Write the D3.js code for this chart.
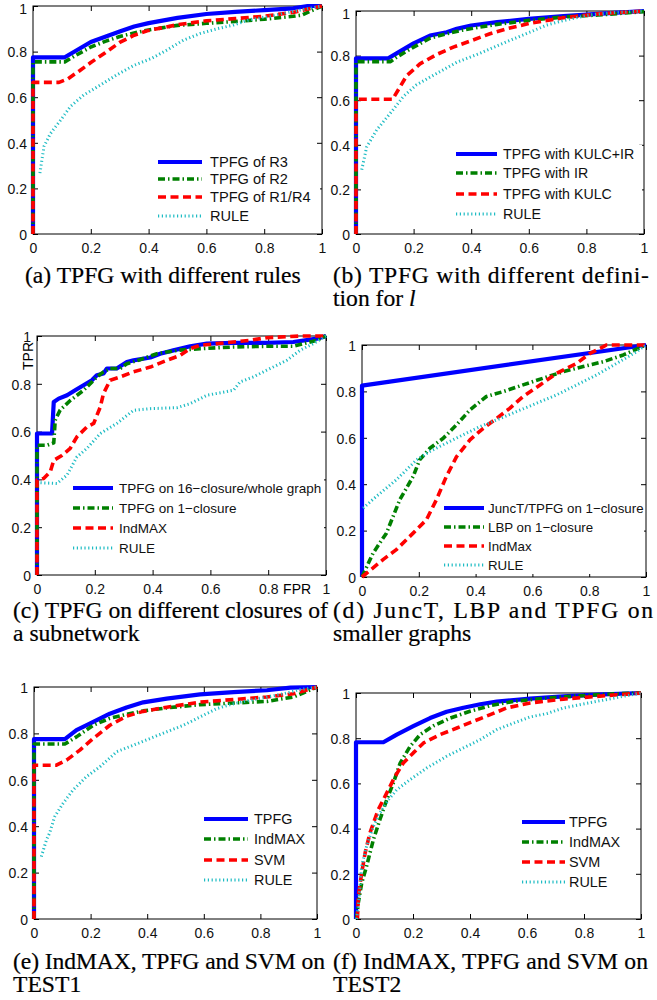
<!DOCTYPE html>
<html><head><meta charset="utf-8">
<script src="https://cdn.jsdelivr.net/npm/d3@7/dist/d3.min.js"></script>
<style>
body{margin:0;background:#fff;}
svg{display:block;}
</style></head>
<body>
<svg id="fig" width="657" height="1000"></svg>
<script>
// ---------- tick values / labels ----------
const tickValues = [0, 0.2, 0.4, 0.6, 0.8, 1];
const tickLabels = ["0", "0.2", "0.4", "0.6", "0.8", "1"];

// ---------- (a) TPFG with different rules ----------
const aNames = ["TPFG of R3", "TPFG of R2", "TPFG of R1/R4", "RULE"];
const aR3 = [[0,0],[0,0.775],[0.11,0.775],[0.15,0.805],[0.2,0.842],[0.25,0.865],[0.3,0.888],[0.35,0.91],[0.4,0.925],[0.5,0.948],[0.6,0.965],[0.7,0.974],[0.8,0.982],[0.9,0.99],[0.95,1],[1,1]];
const aR2 = [[0,0],[0,0.755],[0.11,0.755],[0.15,0.785],[0.2,0.82],[0.25,0.845],[0.3,0.866],[0.35,0.882],[0.4,0.895],[0.5,0.915],[0.6,0.924],[0.7,0.932],[0.8,0.942],[0.9,0.955],[0.93,0.96],[1,1]];
const aR14 = [[0,0],[0,0.665],[0.09,0.665],[0.12,0.68],[0.16,0.715],[0.2,0.752],[0.25,0.795],[0.3,0.84],[0.35,0.872],[0.4,0.893],[0.45,0.905],[0.5,0.918],[0.6,0.935],[0.7,0.945],[0.8,0.955],[0.9,0.972],[1,1]];
const aRule = [[0.024,0.267],[0.038,0.384],[0.06,0.44],[0.096,0.5],[0.13,0.56],[0.176,0.61],[0.234,0.654],[0.29,0.698],[0.35,0.74],[0.41,0.77],[0.464,0.807],[0.52,0.85],[0.58,0.88],[0.637,0.9],[0.695,0.917],[0.75,0.94],[0.81,0.953],[0.867,0.968],[0.925,0.982],[1,1]];

// ---------- (b) TPFG with different definition for l ----------
const bNames = ["TPFG with KULC+IR", "TPFG with IR", "TPFG with KULC", "RULE"];
const bKulcIr = [[0,0],[0,0.788],[0.112,0.788],[0.141,0.81],[0.2,0.855],[0.257,0.89],[0.315,0.905],[0.35,0.92],[0.4,0.935],[0.49,0.95],[0.6,0.965],[0.72,0.977],[0.84,0.987],[1,1]];
const bIr = [[0,0],[0,0.773],[0.12,0.773],[0.141,0.793],[0.2,0.838],[0.257,0.878],[0.315,0.898],[0.373,0.915],[0.43,0.928],[0.49,0.94],[0.6,0.958],[0.72,0.973],[0.84,0.982],[1,0.997]];
const bKulc = [[0,0],[0,0.604],[0.127,0.604],[0.153,0.66],[0.176,0.71],[0.222,0.763],[0.28,0.805],[0.338,0.838],[0.396,0.865],[0.465,0.898],[0.523,0.92],[0.604,0.945],[0.72,0.97],[0.84,0.987],[1,1]];
const bRule = [[0.02,0.288],[0.037,0.39],[0.072,0.467],[0.118,0.54],[0.164,0.616],[0.21,0.669],[0.28,0.72],[0.35,0.77],[0.43,0.81],[0.51,0.855],[0.604,0.905],[0.662,0.937],[0.72,0.957],[0.81,0.982],[0.893,0.993],[1,1]];

// ---------- (c) TPFG on different closures ----------
const cNames = ["TPFG on 16\u2212closure/whole graph", "TPFG on 1\u2212closure", "IndMAX", "RULE"];
const cT16 = [[0,0],[0,0.592],[0.052,0.592],[0.058,0.724],[0.075,0.738],[0.104,0.752],[0.132,0.773],[0.161,0.794],[0.19,0.815],[0.207,0.836],[0.23,0.843],[0.242,0.864],[0.276,0.864],[0.311,0.891],[0.334,0.898],[0.392,0.91],[0.426,0.926],[0.472,0.94],[0.53,0.957],[0.588,0.968],[0.68,0.971],[0.795,0.971],[0.887,0.975],[0.968,0.989],[1,1]];
const cT1 = [[0,0],[0,0.543],[0.035,0.543],[0.058,0.553],[0.063,0.648],[0.08,0.69],[0.115,0.73],[0.161,0.773],[0.184,0.8],[0.207,0.829],[0.23,0.85],[0.253,0.864],[0.288,0.864],[0.311,0.884],[0.357,0.901],[0.415,0.926],[0.484,0.94],[0.565,0.947],[0.68,0.954],[0.795,0.957],[0.887,0.957],[0.968,0.982],[1,1]];
const cInd = [[0,0],[0,0.397],[0.023,0.404],[0.046,0.432],[0.058,0.48],[0.086,0.5],[0.115,0.53],[0.138,0.578],[0.173,0.62],[0.196,0.634],[0.219,0.703],[0.23,0.759],[0.253,0.815],[0.288,0.829],[0.334,0.85],[0.392,0.87],[0.449,0.898],[0.495,0.919],[0.53,0.947],[0.565,0.961],[0.622,0.968],[0.68,0.975],[0.737,0.982],[0.795,0.993],[0.91,1],[1,1]];
const cRule = [[0.012,0.386],[0.069,0.383],[0.104,0.418],[0.138,0.494],[0.173,0.53],[0.219,0.592],[0.276,0.634],[0.334,0.689],[0.392,0.696],[0.484,0.7],[0.53,0.717],[0.588,0.752],[0.68,0.773],[0.703,0.808],[0.749,0.829],[0.795,0.857],[0.864,0.898],[0.91,0.94],[0.956,0.968],[1,1]];

// ---------- (d) JuncT, LBP and TPFG ----------
const dNames = ["JuncT/TPFG on 1\u2212closure", "LBP on 1\u2212closure", "IndMax", "RULE"];
const dJunc = [[0,0],[0,0.825],[1,1]];
const dLbp = [[0,0],[0.039,0.103],[0.086,0.189],[0.133,0.333],[0.18,0.433],[0.203,0.505],[0.239,0.555],[0.286,0.598],[0.333,0.656],[0.38,0.72],[0.438,0.778],[0.497,0.799],[0.567,0.828],[0.638,0.857],[0.709,0.885],[0.779,0.907],[0.85,0.928],[0.92,0.957],[1,1]];
const dInd = [[0,0],[0.074,0.075],[0.121,0.118],[0.18,0.189],[0.227,0.247],[0.262,0.333],[0.297,0.433],[0.333,0.519],[0.38,0.591],[0.427,0.641],[0.474,0.684],[0.52,0.727],[0.567,0.778],[0.627,0.828],[0.685,0.878],[0.756,0.921],[0.803,0.964],[0.85,0.993],[0.86,1],[1,1]];
const dRule = [[0.004,0.297],[0.05,0.347],[0.121,0.419],[0.192,0.505],[0.239,0.541],[0.297,0.577],[0.356,0.613],[0.415,0.648],[0.474,0.677],[0.544,0.713],[0.615,0.749],[0.685,0.785],[0.756,0.828],[0.826,0.871],[0.897,0.921],[0.967,0.971],[1,1]];

// ---------- (e) TEST1 ----------
const eNames = ["TPFG", "IndMAX", "SVM", "RULE"];
const eTpfg = [[0,0],[0,0.775],[0.109,0.775],[0.15,0.814],[0.197,0.842],[0.268,0.885],[0.327,0.912],[0.386,0.934],[0.469,0.95],[0.587,0.968],[0.705,0.978],[0.823,0.986],[0.906,0.997],[1,1]];
const eInd = [[0,0],[0,0.754],[0.109,0.754],[0.15,0.785],[0.209,0.835],[0.268,0.865],[0.327,0.882],[0.386,0.897],[0.469,0.91],[0.528,0.917],[0.587,0.924],[0.705,0.931],[0.823,0.938],[0.917,0.957],[1,1]];
const eSvm = [[0,0],[0,0.663],[0.079,0.663],[0.115,0.685],[0.162,0.728],[0.209,0.778],[0.268,0.835],[0.327,0.874],[0.386,0.895],[0.469,0.913],[0.587,0.935],[0.705,0.946],[0.823,0.957],[0.917,0.971],[1,1]];
const eRule = [[0.026,0.269],[0.044,0.341],[0.055,0.37],[0.073,0.441],[0.103,0.499],[0.138,0.556],[0.185,0.613],[0.233,0.656],[0.292,0.721],[0.351,0.749],[0.41,0.778],[0.469,0.807],[0.528,0.835],[0.587,0.871],[0.646,0.907],[0.705,0.928],[0.764,0.943],[0.823,0.957],[0.882,0.971],[0.941,0.989],[1,1]];

// ---------- (f) TEST2 ----------
const fNames = ["TPFG", "IndMAX", "SVM", "RULE"];
const fTpfg = [[0,0],[0,0.782],[0.096,0.782],[0.143,0.816],[0.201,0.853],[0.26,0.889],[0.318,0.917],[0.377,0.935],[0.436,0.95],[0.494,0.962],[0.611,0.975],[0.728,0.985],[0.845,0.993],[1,1]];
const fInd = [[0.002,0],[0.008,0.071],[0.02,0.159],[0.037,0.233],[0.061,0.351],[0.084,0.44],[0.108,0.528],[0.131,0.602],[0.155,0.69],[0.19,0.764],[0.225,0.816],[0.272,0.855],[0.33,0.889],[0.4,0.919],[0.471,0.944],[0.553,0.963],[0.67,0.978],[0.787,0.988],[0.904,0.996],[1,1]];
const fSvm = [[0.005,0],[0.008,0.1],[0.02,0.204],[0.032,0.292],[0.049,0.381],[0.078,0.484],[0.108,0.558],[0.137,0.631],[0.166,0.69],[0.201,0.735],[0.237,0.779],[0.295,0.816],[0.354,0.845],[0.412,0.875],[0.471,0.904],[0.529,0.934],[0.611,0.956],[0.728,0.973],[0.845,0.985],[1,1]];
const fRule = [[0.002,0],[0.008,0.056],[0.02,0.233],[0.037,0.322],[0.061,0.41],[0.084,0.469],[0.114,0.528],[0.143,0.572],[0.19,0.617],[0.248,0.668],[0.318,0.72],[0.377,0.757],[0.436,0.794],[0.494,0.838],[0.553,0.867],[0.611,0.894],[0.67,0.909],[0.728,0.934],[0.845,0.963],[1,1]];

// ---------- captions ----------
const captionA = ["(a) TPFG with different rules"];
const captionB = ["(b) TPFG with different defini-", "tion for "];
const captionC = ["(c) TPFG on different closures of", "a subnetwork"];
const captionD = ["(d) JuncT, LBP and TPFG on", "smaller graphs"];
const captionE = ["(e) IndMAX, TPFG and SVM on", "TEST1"];
const captionF = ["(f) IndMAX, TPFG and SVM on", "TEST2"];

// ---------- styles (series order: blue, green, red, cyan) ----------
const seriesStyles = [
  {stroke:"#0000ff", width:4.2, dash:null},
  {stroke:"#008000", width:3.6, dash:"7,3,1.5,3"},
  {stroke:"#ff0000", width:3.6, dash:"8,4.5"},
  {stroke:"#1fbcc4", width:3, dash:"1.2,2.6"}
];

// ---------- layout ----------
const panels = [
  {series:[aR3,aR2,aR14,aRule], names:aNames, x0:33, x1:322, yb:234, yt:6,
   leg:{lx0:158, lx1:202, tx:210, rows:[162,179,197,216], fs:14.6}},
  {series:[bKulcIr,bIr,bKulc,bRule], names:bNames, x0:356, x1:644, yb:234, yt:11,
   leg:{lx0:456, lx1:497, tx:503, rows:[154,173,194,214], fs:14.2}},
  {series:[cT16,cT1,cInd,cRule], names:cNames, x0:37, x1:326, yb:575, yt:336,
   leg:{lx0:73, lx1:113, tx:119, rows:[488,508,528,548], fs:13.5}, tpr:true},
  {series:[dJunc,dLbp,dInd,dRule], names:dNames, x0:362, x1:646, yb:577, yt:345,
   leg:{lx0:444, lx1:484, tx:488, rows:[508,527,546,565], fs:13.3}},
  {series:[eTpfg,eInd,eSvm,eRule], names:eNames, x0:34, x1:317, yb:919, yt:687,
   leg:{lx0:204, lx1:248, tx:254, rows:[819,839,860,880], fs:14.4}},
  {series:[fTpfg,fInd,fSvm,fRule], names:fNames, x0:356, x1:641, yb:919, yt:693,
   leg:{lx0:522, lx1:565, tx:569, rows:[822,842,862,882], fs:14.4}}
];

const svg = d3.select("#fig");
const sans = "'Liberation Sans', Arial, Helvetica, sans-serif";
const serif = "'Liberation Serif', 'Times New Roman', serif";
const tickFs = 14;

panels.forEach(p => {
  const x = d3.scaleLinear().domain([0,1]).range([p.x0, p.x1]);
  const y = d3.scaleLinear().domain([0,1]).range([p.yb, p.yt]);
  const g = svg.append("g");

  g.append("rect").attr("x", p.x0).attr("y", p.yt)
    .attr("width", p.x1 - p.x0).attr("height", p.yb - p.yt)
    .attr("fill", "none").attr("stroke", "#000").attr("stroke-width", 1);

  const fmt = (d,i) => tickLabels[i];
  const axB = g.append("g").attr("transform", `translate(0,${p.yb})`)
    .call(d3.axisBottom(x).tickValues(tickValues).tickFormat(fmt).tickSizeInner(-5).tickSizeOuter(0).tickPadding(9));
  const axL = g.append("g").attr("transform", `translate(${p.x0},0)`)
    .call(d3.axisLeft(y).tickValues(tickValues).tickFormat(fmt).tickSizeInner(-5).tickSizeOuter(0).tickPadding(6));
  const axT = g.append("g").attr("transform", `translate(0,${p.yt})`)
    .call(d3.axisTop(x).tickValues(tickValues).tickFormat("").tickSizeInner(-5).tickSizeOuter(0));
  const axR = g.append("g").attr("transform", `translate(${p.x1},0)`)
    .call(d3.axisRight(y).tickValues(tickValues).tickFormat("").tickSizeInner(-5).tickSizeOuter(0));
  [axB, axL, axT, axR].forEach(a => {
    a.select(".domain").remove();
    a.selectAll("line").attr("stroke", "#000").attr("stroke-width", 1);
    a.selectAll("text").style("font-family", sans).style("font-size", tickFs + "px").attr("fill", "#111");
  });
  // keep the top "1" label fully inside the page
  axL.selectAll("text").attr("dy", d => (y(d) < 12 ? "0.55em" : "0.38em"));

  if (p.tpr) {
    g.append("text").attr("transform", `translate(${p.x0 - 4},${p.yt + 20}) rotate(-90)`)
      .attr("text-anchor", "middle").style("font-family", sans).style("font-size", tickFs + "px").text("TPR");
    g.append("text").attr("x", x(0.9)).attr("y", p.yb + 19)
      .attr("text-anchor", "middle").style("font-family", sans).style("font-size", tickFs + "px").text("FPR");
  }

  const line = d3.line().x(d => x(d[0])).y(d => y(d[1]));
  p.series.forEach((s, i) => {
    const st = seriesStyles[i];
    g.append("path").attr("d", line(s)).attr("fill", "none")
      .attr("stroke", st.stroke).attr("stroke-width", st.width)
      .attr("stroke-dasharray", st.dash).attr("stroke-linejoin", "round");
  });

  const L = p.leg;
  const textW = d3.max(p.names, n => n.length) * L.fs * 0.6;
  g.append("rect").attr("x", L.lx0 - 4).attr("y", L.rows[0] - 9)
    .attr("width", Math.min(p.x1 - 2, L.tx + textW + 6) - (L.lx0 - 4))
    .attr("height", L.rows[3] - L.rows[0] + 18).attr("fill", "#fff");
  p.names.forEach((n, i) => {
    const st = seriesStyles[i];
    g.append("line").attr("x1", L.lx0).attr("x2", L.lx1)
      .attr("y1", L.rows[i]).attr("y2", L.rows[i])
      .attr("stroke", st.stroke).attr("stroke-width", st.width)
      .attr("stroke-dasharray", st.dash);
    g.append("text").attr("x", L.tx).attr("y", L.rows[i]).attr("dy", "0.36em")
      .style("font-family", sans).style("font-size", L.fs + "px").attr("fill", "#111").text(n);
  });
});

// ---------- captions ----------
const capFs = 22.5;
const capSx = 1.05;
function caption(lines, x, y1, y2, len1, italicTail) {
  const t1 = svg.append("text").attr("transform", `translate(${x},${y1}) scale(${capSx},1)`)
    .style("font-family", serif).style("font-size", capFs + "px").attr("fill", "#000")
    .attr("stroke", "#000").attr("stroke-width", 0.2).text(lines[0]);
  if (len1) t1.attr("textLength", len1 / capSx).attr("lengthAdjust", "spacing");
  if (lines.length > 1) {
    const t2 = svg.append("text").attr("transform", `translate(${x},${y2}) scale(${capSx},1)`)
      .style("font-family", serif).style("font-size", capFs + "px").attr("fill", "#000")
      .attr("stroke", "#000").attr("stroke-width", 0.2);
    t2.append("tspan").text(lines[1]);
    if (italicTail) t2.append("tspan").style("font-style", "italic").text(italicTail);
  }
}
caption(captionA, 25, 283, 0, null);
caption(captionB, 333, 283, 306, 316, "l");
caption(captionC, 13, 618, 641, 315);
caption(captionD, 333, 618, 641, 320);
caption(captionE, 13, 969, 992, 312);
caption(captionF, 333, 969, 992, 315);
</script>
</body></html>
